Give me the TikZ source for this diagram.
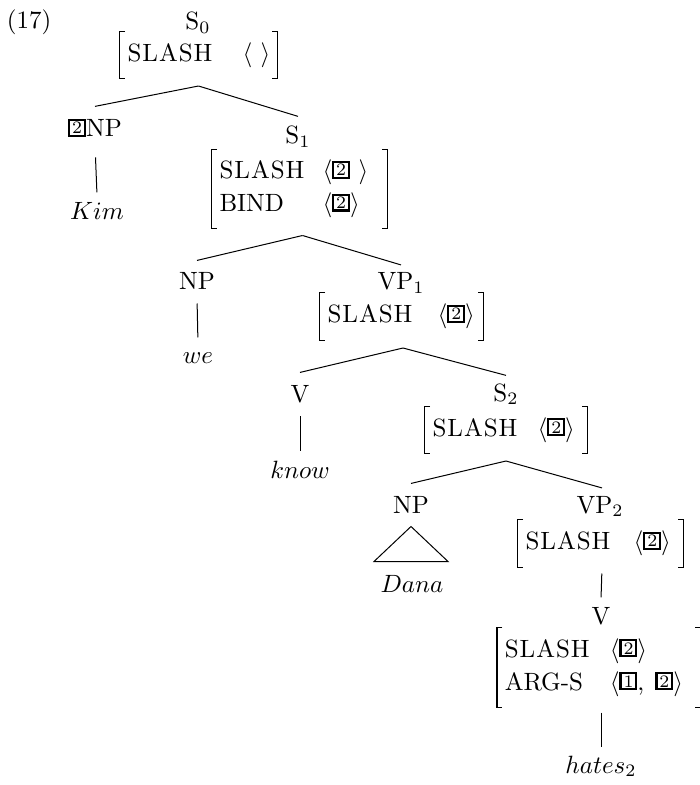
\documentclass[tikz,border=0pt]{standalone}
\newcommand\tg[1]{\raisebox{1.3pt}{\fboxsep=0.4pt\fboxrule=0.9pt\fbox{\makebox[4.6pt]{\rule{0pt}{4.6pt}\scriptsize #1}}}}
\newcommand\ft[3][43pt]{\makebox[#1][l]{#2}#3}
\newcommand\SL{S\kern.4pt L\kern.4pt A\kern.4pt S\kern.4pt H}
\begin{document}
\begin{tikzpicture}[x=0.4pt,y=-0.4pt,
  lbl/.style={inner sep=3pt, anchor=base},
  avm/.style={inner xsep=3pt, inner ysep=0pt, align=left, anchor=center},
  brk/.style={line width=0.65pt},
  br/.style={line width=0.4pt},
  font=\fontsize{10}{13.2}\selectfont]
\useasboundingbox (0,0) rectangle (699,785);

\node[lbl] (ex) at (29,29) {(17)};
\node[lbl] (s0) at (198,30) {S$_0$};
\node[avm, minimum height=18.4pt, text width=56.8pt] (a0) at (198.5,55) {\ft[46pt]{\SL}{$\langle\ \rangle$}};

\node[lbl] (np0) at (95,137) {\tg{2}NP};
\node[lbl] (kim) at (97,220) {$Kim$};
\node[lbl] (s1) at (298,144) {S$_1$};
\node[avm, minimum height=31.2pt, text width=64pt] (a1) at (299.5,189) {\ft[41.2pt]{\SL}{$\langle$\tg{2}\ $\rangle$}\\ \ft[41.2pt]{BIND}{$\langle$\tg{2}$\rangle$}};

\node[lbl] (np1) at (197,290) {NP};
\node[lbl] (we) at (198,363) {$we$};
\node[lbl] (vp1) at (401,290) {VP$_1$};
\node[avm, minimum height=18.8pt, text width=59.2pt] (a2) at (401.5,316.5) {\ft[44pt]{\SL}{$\langle$\tg{2}$\rangle$}};

\node[lbl] (v1) at (300,402) {V};
\node[lbl] (know) at (300,478) {$know$};
\node[lbl] (s2) at (506,401) {S$_2$};
\node[avm, minimum height=18.4pt, text width=58.8pt] (a3) at (506,430) {\ft[42pt]{\SL}{$\langle$\tg{2}$\rangle$}};

\node[lbl] (np2) at (411,513) {NP};
\node[lbl] (dana) at (412,592) {$Dana$};
\node[lbl] (vp2) at (600,513) {VP$_2$};
\node[avm, minimum height=18.8pt, text width=60pt] (a4) at (600.5,543.5) {\ft[43.2pt]{\SL}{$\langle$\tg{2}$\rangle$}};

\node[lbl] (v2) at (601,624) {V};
\node[avm, minimum height=31.6pt, text width=75.2pt] (a5) at (598.75,667.5) {\ft[42pt]{\SL}{$\langle$\tg{2}$\rangle$}\\ \ft[42pt]{ARG-S}{$\langle$\tg{1},\ \kern1pt\tg{2}$\rangle$}};
\node[lbl] (hates) at (601,773) {$hates_2$};

\foreach \n in {a0,a1,a2,a3,a4,a5} {
  \draw[brk] ([xshift=2.2pt]\n.north west) -- (\n.north west) -- (\n.south west) -- ([xshift=2.2pt]\n.south west);
  \draw[brk] ([xshift=-2.2pt]\n.north east) -- (\n.north east) -- (\n.south east) -- ([xshift=-2.2pt]\n.south east);
}

% branches
\draw[br] ([yshift=-3pt]a0.south) -- ([yshift=1.8pt]np0.north);
\draw[br] ([yshift=-3pt]a0.south) -- ([yshift=0.8pt]s1.north);
\draw[br] ([xshift=1.2pt,yshift=-2.8pt]a1.south) -- ([yshift=1.8pt]np1.north);
\draw[br] ([xshift=1.2pt,yshift=-2.8pt]a1.south) -- (vp1.north);
\draw[br] ([xshift=0.6pt,yshift=-3pt]a2.south) -- ([yshift=1.8pt]v1.north);
\draw[br] ([xshift=0.6pt,yshift=-3pt]a2.south) -- (s2.north);
\draw[br] ([yshift=-3pt]a3.south) -- ([yshift=1.8pt]np2.north);
\draw[br] ([yshift=-3pt]a3.south) -- ([xshift=0.8pt]vp2.north);
% leaves
\draw[br, shorten <=5pt, shorten >=1pt] (np0.south) -- (kim.north);
\draw[br, shorten <=2.2pt, shorten >=2.7pt] (np1.south) -- (we.north);
\draw[br, shorten <=2.2pt, shorten >=0.6pt] (v1.south) -- (know.north);
\draw[br] ([yshift=-2.2pt]np2.south) -- ++(-37,35) -- ++(74,0) -- cycle;
\draw[br, shorten <=2.4pt, shorten >=0.6pt] ([xshift=0.6pt]a4.south) -- (v2.north);
\draw[br, shorten <=2pt, shorten >=0.4pt] ([xshift=0.9pt]a5.south) -- (hates.north);
\end{tikzpicture}
\end{document}
